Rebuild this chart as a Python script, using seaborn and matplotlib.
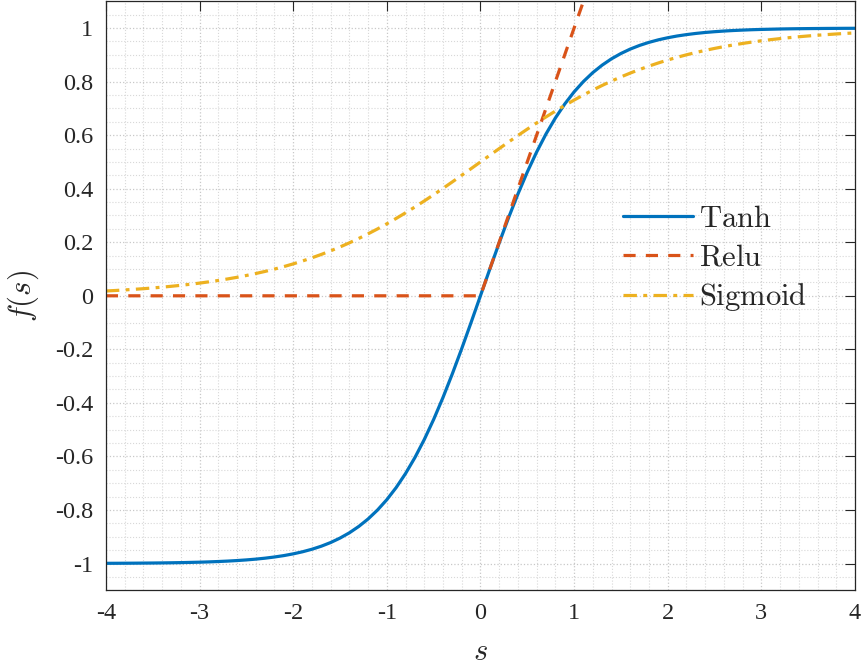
import numpy as np
import pandas as pd
import seaborn as sns
import matplotlib.pyplot as plt
from matplotlib.ticker import MultipleLocator

sns.set_theme(style="white")
plt.rcParams['font.family'] = ['Liberation Serif', 'DejaVu Serif']
plt.rcParams['mathtext.fontset'] = 'cm'

# sample positions s = -4.0 ... 4.0 (step 0.1)
s_vals = np.round(np.arange(-40, 41) / 10, 1)
tanh_vals = [-0.9993, -0.9992, -0.9990, -0.9988, -0.9985, -0.9982, -0.9978, -0.9973, -0.9967, -0.9959,
             -0.9951, -0.9940, -0.9926, -0.9910, -0.9890, -0.9866, -0.9837, -0.9801, -0.9757, -0.9705,
             -0.9640, -0.9562, -0.9468, -0.9354, -0.9217, -0.9051, -0.8854, -0.8617, -0.8337, -0.8005,
             -0.7616, -0.7163, -0.6640, -0.6044, -0.5370, -0.4621, -0.3799, -0.2913, -0.1974, -0.0997,
             0.0,
             0.0997, 0.1974, 0.2913, 0.3799, 0.4621, 0.5370, 0.6044, 0.6640, 0.7163, 0.7616,
             0.8005, 0.8337, 0.8617, 0.8854, 0.9051, 0.9217, 0.9354, 0.9468, 0.9562, 0.9640,
             0.9705, 0.9757, 0.9801, 0.9837, 0.9866, 0.9890, 0.9910, 0.9926, 0.9940, 0.9951,
             0.9959, 0.9967, 0.9973, 0.9978, 0.9982, 0.9985, 0.9988, 0.9990, 0.9992, 0.9993]
sigmoid_vals = [0.0180, 0.0198, 0.0219, 0.0242, 0.0266, 0.0293, 0.0323, 0.0356, 0.0392, 0.0431,
                0.0474, 0.0522, 0.0573, 0.0630, 0.0691, 0.0759, 0.0832, 0.0911, 0.0998, 0.1091,
                0.1192, 0.1301, 0.1419, 0.1545, 0.1680, 0.1824, 0.1978, 0.2142, 0.2315, 0.2497,
                0.2689, 0.2891, 0.3100, 0.3318, 0.3543, 0.3775, 0.4013, 0.4256, 0.4502, 0.4750,
                0.5,
                0.5250, 0.5498, 0.5744, 0.5987, 0.6225, 0.6457, 0.6682, 0.6900, 0.7109, 0.7311,
                0.7503, 0.7685, 0.7858, 0.8022, 0.8176, 0.8320, 0.8455, 0.8581, 0.8699, 0.8808,
                0.8909, 0.9002, 0.9089, 0.9168, 0.9241, 0.9309, 0.9370, 0.9427, 0.9478, 0.9526,
                0.9569, 0.9608, 0.9644, 0.9677, 0.9707, 0.9734, 0.9758, 0.9781, 0.9802, 0.9820]
relu_s = [-4.0, 0.0, 4.0]
relu_vals = [0.0, 0.0, 4.0]

xticks = [-4, -3, -2, -1, 0, 1, 2, 3, 4]
yticks = [-1, -0.8, -0.6, -0.4, -0.2, 0, 0.2, 0.4, 0.6, 0.8, 1]
ytick_labels = ['-1', '-0.8', '-0.6', '-0.4', '-0.2', '0', '0.2', '0.4', '0.6', '0.8', '1']

fig = plt.figure(figsize=(8.61, 6.70), dpi=100)
ax = fig.add_axes([0.123, 0.119, 0.870, 0.879])

sns.lineplot(x=s_vals, y=tanh_vals, ax=ax, color='#0072BD', lw=2.3, label=r'$\mathrm{Tanh}$')
sns.lineplot(x=relu_s, y=relu_vals, ax=ax, color='#D95319', lw=2.3, label=r'$\mathrm{Relu}$')
sns.lineplot(x=s_vals, y=sigmoid_vals, ax=ax, color='#EDB120', lw=2.3, label=r'$\mathrm{Sigmoid}$')
ax.lines[1].set_dashes([3.8, 3.2])
ax.lines[2].set_dashes([4.2, 2, 1.2, 2])

ax.set_xlim(-4, 4)
ax.set_ylim(-1.1, 1.1)
ax.set_xticks(xticks)
ax.set_xticklabels([str(v) for v in xticks])
ax.set_yticks(yticks)
ax.set_yticklabels(ytick_labels)
ax.xaxis.set_minor_locator(MultipleLocator(0.2))
ax.yaxis.set_minor_locator(MultipleLocator(0.05))

ax.grid(which='major', color='#c8c8c8', ls=':', lw=0.9)
ax.grid(which='minor', color='#d8d8d8', ls=':', lw=0.8)
ax.set_axisbelow(True)
ax.tick_params(which='major', direction='in', length=7, width=0.8, color='#262626',
               top=True, right=True, labelsize=17.5, labelcolor='#262626', pad=9)
ax.tick_params(which='minor', length=0)
for sp in ax.spines.values():
    sp.set_color('#262626')
    sp.set_linewidth(0.9)

ax.set_xlabel('$s$', fontsize=22, color='#262626', labelpad=10)
ax.set_ylabel('$f(s)$', fontsize=22, color='#262626', labelpad=10)

leg = ax.legend(loc='center left', bbox_to_anchor=(0.653, 0.562), frameon=False,
                fontsize=22, handlelength=2.3, handletextpad=0.2, labelspacing=0.3)

fig.savefig('out.png', dpi=100)
